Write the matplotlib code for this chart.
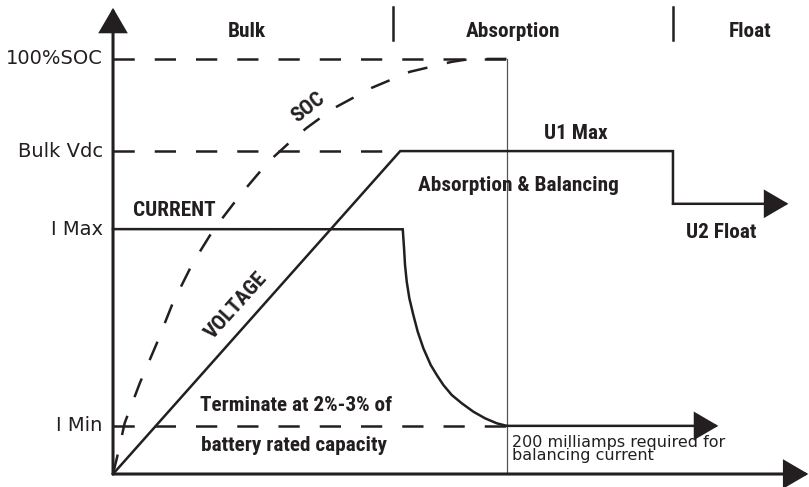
import numpy as np
import matplotlib.pyplot as plt

# -----------------------------
# Chart data (time 0-100, level 0-100)
# -----------------------------
level_names = ["100%SOC", "Bulk Vdc", "I Max", "I Min"]
level_values = [100.0, 77.8, 59.0, 11.6]

volt_t = [0.0, 41.8, 81.5, 81.5, 98.3]
volt_v = [0.0, 77.8, 77.8, 65.1, 65.1]

curr_t = [0.0, 42.17, 42.36, 42.50, 42.75, 43.13, 43.71, 44.35, 45.17, 46.24,
          47.12, 48.08, 49.30, 50.76, 52.45, 54.15, 55.85, 57.31, 88.1]
curr_v = [59.0, 58.96, 54.39, 50.36, 46.34, 42.34, 38.31, 34.29, 30.29, 26.27,
          23.86, 21.45, 19.04, 17.04, 15.01, 13.42, 12.22, 11.6, 11.6]

soc_t = [0.0, 0.6, 1.7, 3.9, 6.4, 8.7, 11.6, 14.6, 18.5, 22.6, 26.1, 28.2,
         32.0, 37.6, 43.2, 49.3, 52.0, 57.4]
soc_v = [0.0, 4.1, 12.3, 21.9, 31.6, 41.2, 50.8, 58.8, 67.2, 75.2, 80.5, 83.4,
         88.0, 93.0, 96.9, 99.3, 100.0, 100.0]

balance_t = 57.35       # absorption / balancing marker
phase_edges = [40.8, 81.5]
phase_names = ["Bulk", "Absorption", "Float"]
phase_centers = [19.5, 58.2, 92.7]

# -----------------------------
# Figure
# -----------------------------
fig = plt.figure(figsize=(8.09, 4.87), dpi=100)
ax = fig.add_axes([0, 0, 1, 1])
ax.set_xlim(-16.45, 101.3)
ax.set_ylim(-3.13, 114.2)
ax.axis("off")

ink = "#231f20"
bold = dict(family=["Roboto Condensed", "DejaVu Sans"], weight="bold", color=ink)
plain = dict(family=["DejaVu Sans"], color=ink)
dash = (0, (8.5, 8.0))
fs_bold = 15.3

def arrow(x0, y0, x1, y1, lw):
    ax.annotate("", xy=(x1, y1), xytext=(x0, y0),
                arrowprops=dict(arrowstyle="-|>,head_length=0.6,head_width=0.35",
                                mutation_scale=25, lw=lw, color=ink,
                                shrinkA=0, shrinkB=0, joinstyle="miter"))

# axes
arrow(0, 0, 0, 112.3, 2.2)
arrow(0, 0, 101.2, 0, 2.2)

# reference levels
ax.plot([0, balance_t], [level_values[0]] * 2, color=ink, lw=1.8, ls=dash)
ax.plot([0, volt_t[1]], [level_values[1]] * 2, color=ink, lw=1.8, ls=dash)
ax.plot([0, balance_t], [level_values[3]] * 2, color=ink, lw=1.8, ls=dash)
for name, v in zip(level_names, level_values):
    ax.text(-1.5, v, name, ha="right", va="center", fontsize=14, **plain)

# thin marker line
ax.plot([balance_t, balance_t], [0, 100], color="#555555", lw=0.9)

# SOC curve
ax.plot(soc_t, soc_v, color=ink, lw=1.8, ls=(0, (8, 8)))

# voltage
ax.plot(volt_t[:-1], volt_v[:-1], color=ink, lw=1.8, solid_joinstyle="miter")
arrow(volt_t[-2], volt_v[-2], volt_t[-1], volt_v[-1], 1.8)

# current
ax.plot(curr_t[:-1], curr_v[:-1], color=ink, lw=1.8, solid_joinstyle="miter")
arrow(curr_t[-2], curr_v[-2], curr_t[-1], curr_v[-1], 1.8)

# phases
for e in phase_edges:
    ax.plot([e, e], [104.6, 112.5], color=ink, lw=1.8)
for name, c in zip(phase_names, phase_centers):
    ax.text(c, 106.7, name, ha="center", va="center", fontsize=fs_bold, **bold)

# curve labels
ax.text(2.9, 63.4, "CURRENT", ha="left", va="center", fontsize=fs_bold, **bold)
ax.text(17.9, 40.5, "VOLTAGE", ha="center", va="center", rotation=48,
        fontsize=fs_bold, **bold)
ax.text(28.4, 88.2, "SOC", ha="center", va="center", rotation=38,
        fontsize=fs_bold, **bold)
ax.text(67.3, 82.1, "U1 Max", ha="center", va="center", fontsize=fs_bold, **bold)
ax.text(59.0, 69.6, "Absorption & Balancing", ha="center", va="center",
        fontsize=fs_bold, **bold)
ax.text(88.5, 58.3, "U2 Float", ha="center", va="center", fontsize=fs_bold, **bold)
ax.text(26.6, 16.6, "Terminate at 2%-3% of", ha="center", va="center",
        fontsize=fs_bold, **bold)
ax.text(26.4, 6.9, "battery rated capacity", ha="center", va="center",
        fontsize=fs_bold, **bold)
ax.text(58.1, 9.4, "200 milliamps required for\nbalancing current", ha="left",
        va="top", fontsize=11.5, linespacing=0.82, **plain)

fig.savefig("out.png", dpi=100)
